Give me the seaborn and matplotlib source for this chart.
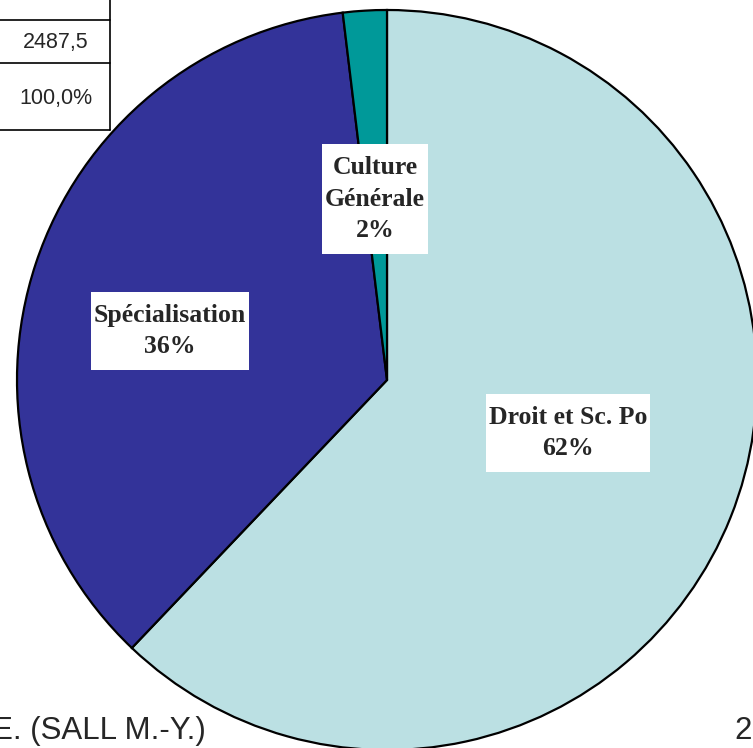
import matplotlib
matplotlib.use("Agg")
import matplotlib.pyplot as plt
from matplotlib.patches import Rectangle
import seaborn as sns

# data
categories = ["Droit et Sc. Po", "Spécialisation", "Culture\nGénérale"]
hours = [1545.0, 895.0, 47.5]
colors = ["#BBE0E3", "#333399", "#009999"]
table_values = ["2487,5", "100,0%"]
footer_left = "E. (SALL M.-Y.)"
footer_right = "2"

sns.set_theme(style="white")
plt.rcParams["font.family"] = ["Liberation Sans", "DejaVu Sans"]

W, H = 753, 748
fig = plt.figure(figsize=(W / 100, H / 100), dpi=100)
ax = fig.add_axes([0, 0, 1, 1])

cx, cy, r = 387, 380, 370
# y axis is inverted below, so 270 deg points up and counterclock turns clockwise on screen
wedges, _ = ax.pie(hours, colors=colors, startangle=270, counterclock=True,
                   center=(cx, cy), radius=r,
                   wedgeprops=dict(edgecolor="black", linewidth=1.6))
ax.set_xlim(0, W)
ax.set_ylim(H, 0)
ax.set_aspect("equal")
ax.axis("off")

total = sum(hours)
label_offsets = [(181, 53), (-217, -49), (-12, -181)]
labels = []
for name, v, (dx, dy) in zip(categories, hours, label_offsets):
    pct = round(100 * v / total)
    t = ax.text(cx + dx, cy + dy, f"{name}\n{pct}%", ha="center", va="center",
                family=["Liberation Serif"], fontweight="bold", fontsize=18.5,
                linespacing=1.45, zorder=4)
    labels.append(t)

# white boxes behind labels, more padding top/bottom than sides (like Excel)
fig.canvas.draw()
renderer = fig.canvas.get_renderer()
inv = ax.transData.inverted()
for t in labels:
    bb = t.get_window_extent(renderer)
    (x0, y0), (x1, y1) = inv.transform([(bb.x0, bb.y0), (bb.x1, bb.y1)])
    xa, xb = sorted([x0, x1])
    ya, yb = sorted([y0, y1])
    padx, pady = 3, 12
    ax.add_patch(Rectangle((xa - padx, ya - pady), xb - xa + 2 * padx,
                           yb - ya + 2 * pady, fc="white", ec="none", zorder=3))

# partial table in the top-left corner
ax.plot([0, 110], [20, 20], color="black", lw=1.2)
ax.plot([0, 110], [63, 63], color="black", lw=1.2)
ax.plot([0, 110], [130, 130], color="black", lw=1.2)
ax.plot([110, 110], [0, 130], color="black", lw=1.2)
ax.text(56, 42, table_values[0], ha="center", va="center", fontsize=15.5)
ax.text(56, 98, table_values[1], ha="center", va="center", fontsize=15.5)

ax.text(-8, 731, footer_left, ha="left", va="center", fontsize=22.5)
ax.text(752, 731, footer_right, ha="right", va="center", fontsize=22.5)

fig.savefig("out.png", dpi=100)
